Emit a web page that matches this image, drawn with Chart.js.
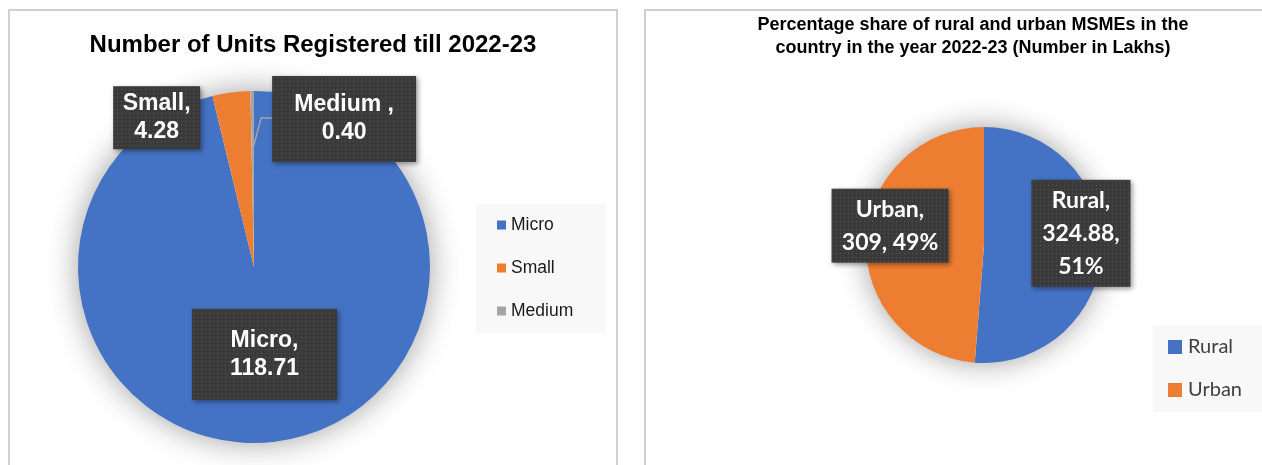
<!DOCTYPE html>
<html>
<head>
<meta charset="utf-8">
<script src="https://cdn.jsdelivr.net/npm/chart.js@4.4.1/dist/chart.umd.min.js"></script>
<style>
  body { margin: 0; background: #fff; width: 1262px; height: 465px; overflow: hidden; position: relative; }
  .panel { position: absolute; border: 2px solid #d0d0d0; }
  #p1 { left: 8px; top: 9px; width: 606px; height: 480px; }
  #p2 { left: 644px; top: 9px; width: 640px; height: 480px; }
  canvas { position: absolute; top: 0; }
</style>
</head>
<body>
<div class="panel" id="p1"></div>
<div class="panel" id="p2"></div>
<canvas id="units" width="631" height="465" style="left:0"></canvas>
<canvas id="areas" width="631" height="465" style="left:631px"></canvas>
<script>
// units registered till 2022-23 (lakh)
const unitLabels = ['Micro', 'Small', 'Medium'];
const unitValues = [118.71, 4.28, 0.40];
const unitColors = ['#4472C4', '#ED7D31', '#A5A5A5'];

// rural / urban MSMEs 2022-23 (lakh)
const areaLabels = ['Rural', 'Urban'];
const areaValues = [324.88, 309];
const areaColors = ['#4472C4', '#ED7D31'];

function dotPattern(ctx) {
  const c = document.createElement('canvas');
  c.width = c.height = 4;
  const g = c.getContext('2d');
  g.fillStyle = '#3a3a3a';
  g.fillRect(0, 0, 4, 4);
  g.fillStyle = '#585858';
  g.fillRect(1, 1, 1, 1);
  return ctx.createPattern(c, 'repeat');
}

function wrap(ctx, words, maxW) {
  let lines = [], cur = '';
  words.forEach(w => {
    const t = cur ? cur + ' ' + w : w;
    if (cur && ctx.measureText(t).width > maxW) { lines.push(cur); cur = w; }
    else cur = t;
  });
  if (cur) lines.push(cur);
  return lines;
}

// soft halo under the pie
const pieShadow = {
  id: 'pieShadow',
  beforeDatasetsDraw(chart, args, opts) {
    const a = chart.getDatasetMeta(0).data[0];
    if (!a) return;
    const ctx = chart.ctx;
    ctx.save();
    ctx.shadowColor = 'rgba(0,0,0,0.4)';
    ctx.shadowBlur = opts.blur || 18;
    ctx.fillStyle = '#fff';
    ctx.beginPath();
    ctx.arc(a.x, a.y, a.outerRadius - 1, 0, Math.PI * 2);
    ctx.fill();
    ctx.restore();
  }
};

// dark data-label boxes
const sliceTags = {
  id: 'sliceTags',
  afterDatasetsDraw(chart, args, opts) {
    const ctx = chart.ctx;
    const meta = chart.getDatasetMeta(0);
    const pat = dotPattern(ctx);
    meta.data.forEach((arc, i) => {
      const p = arc.tooltipPosition();
      const off = opts.offsets[i], sz = opts.sizes[i];
      const cx = p.x + off[0], cy = p.y + off[1];
      const x0 = cx - sz[0] / 2, y0 = cy - sz[1] / 2;

      if (opts.leaders && opts.leaders[i]) {
        const mid = (arc.startAngle + arc.endAngle) / 2;
        const ex = arc.x + Math.cos(mid) * arc.outerRadius * 0.67;
        const ey = arc.y + Math.sin(mid) * arc.outerRadius * 0.67;
        ctx.save();
        ctx.strokeStyle = '#a5a5a5';
        ctx.lineWidth = 1.5;
        ctx.beginPath();
        ctx.moveTo(x0, cy - 1);
        ctx.lineTo(x0 - 11, cy - 1);
        ctx.lineTo(ex, ey);
        ctx.stroke();
        ctx.restore();
      }

      ctx.save();
      ctx.shadowColor = 'rgba(0,0,0,0.4)';
      ctx.shadowBlur = 5;
      ctx.shadowOffsetX = 2;
      ctx.shadowOffsetY = 2;
      ctx.fillStyle = pat;
      ctx.fillRect(x0, y0, sz[0], sz[1]);
      ctx.restore();

      ctx.save();
      ctx.font = opts.font;
      ctx.fillStyle = '#fff';
      ctx.textAlign = 'center';
      ctx.textBaseline = 'middle';
      const lines = wrap(ctx, opts.text(i), sz[0] - 16);
      const lh = opts.lineHeight;
      lines.forEach((ln, k) => {
        ctx.fillText(ln, cx, cy + (k - (lines.length - 1) / 2) * lh);
      });
      ctx.restore();
    });
  }
};

// legend box and chart title drawn by hand
const sideLegend = {
  id: 'sideLegend',
  afterDraw(chart, args, opts) {
    const ctx = chart.ctx;
    const ds = chart.data.datasets[0];
    ctx.save();
    ctx.fillStyle = '#f8f8f8';
    ctx.fillRect(opts.box[0], opts.box[1], opts.box[2], opts.box[3]);
    ctx.font = opts.font;
    ctx.textBaseline = 'middle';
    chart.data.labels.forEach((lab, i) => {
      const y = opts.firstY + i * opts.step;
      ctx.fillStyle = ds.backgroundColor[i];
      ctx.fillRect(opts.markX, y - opts.mark / 2, opts.mark, opts.mark);
      ctx.fillStyle = opts.color;
      ctx.fillText(lab, opts.textX, y);
    });
    ctx.restore();

    ctx.save();
    ctx.font = opts.titleFont;
    ctx.fillStyle = '#000';
    ctx.textAlign = 'center';
    ctx.textBaseline = 'middle';
    opts.title.forEach((t, k) => ctx.fillText(t, opts.titleX, opts.titleY + k * opts.titleStep));
    ctx.restore();
  }
};

new Chart(document.getElementById('units'), {
  type: 'pie',
  data: {
    labels: unitLabels,
    datasets: [{ data: unitValues, backgroundColor: unitColors, borderWidth: 0 }]
  },
  plugins: [pieShadow, sliceTags, sideLegend],
  options: {
    responsive: false,
    animation: false,
    layout: { padding: { left: 78, right: 201, top: 91, bottom: 22 } },
    plugins: {
      legend: { display: false },
      tooltip: { enabled: false },
      pieShadow: { blur: 32 },
      sliceTags: {
        font: 'bold 23px "Liberation Sans", Arial, sans-serif',
        lineHeight: 28,
        offsets: [[0, 0], [-86, -62], [91, -60]],
        sizes: [[145, 91], [87, 63], [144, 86]],
        leaders: [false, false, true],
        text: i => [unitLabels[i] === 'Medium' ? 'Medium ,' : unitLabels[i] + ',', unitValues[i].toFixed(2)]
      },
      sideLegend: {
        box: [476, 204, 130, 129],
        firstY: 225, step: 43,
        mark: 9, markX: 497, textX: 511,
        font: '17.5px "Liberation Sans", Arial, sans-serif',
        color: '#1a1a1a',
        title: ['Number of Units Registered till 2022-23'],
        titleFont: 'bold 24px "Liberation Sans", Arial, sans-serif',
        titleX: 313, titleY: 45, titleStep: 0
      }
    }
  }
});

const areaTotal = areaValues.reduce((s, v) => s + v, 0);

new Chart(document.getElementById('areas'), {
  type: 'pie',
  data: {
    labels: areaLabels,
    datasets: [{ data: areaValues, backgroundColor: areaColors, borderWidth: 0 }]
  },
  plugins: [pieShadow, sliceTags, sideLegend],
  options: {
    responsive: false,
    animation: false,
    layout: { padding: { left: 235, right: 160, top: 127, bottom: 102 } },
    plugins: {
      legend: { display: false },
      tooltip: { enabled: false },
      pieShadow: { blur: 30 },
      sliceTags: {
        font: 'bold 23px Lato, "Noto Sans", sans-serif',
        lineHeight: 33,
        offsets: [[38, -14], [-35, -17]],
        sizes: [[99, 107], [117, 74]],
        text: i => [areaLabels[i] + ',', areaValues[i] + ',', Math.round(areaValues[i] / areaTotal * 100) + '%']
      },
      sideLegend: {
        box: [522, 325, 109, 87],
        firstY: 347, step: 43,
        mark: 14, markX: 537, textX: 557,
        font: '20px Lato, "Noto Sans", sans-serif',
        color: '#404040',
        title: ['Percentage share of rural and urban MSMEs in the', 'country in the year 2022-23 (Number in Lakhs)'],
        titleFont: 'bold 18px "Liberation Sans", Arial, sans-serif',
        titleX: 342, titleY: 25, titleStep: 23
      }
    }
  }
});
</script>
</body>
</html>
